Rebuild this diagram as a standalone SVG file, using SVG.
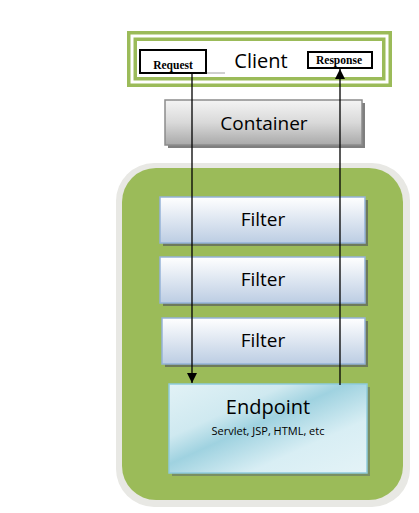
<svg xmlns="http://www.w3.org/2000/svg" width="419" height="513" viewBox="0 0 419 513">
<defs>
<linearGradient id="gGray" x1="0" y1="0" x2="0" y2="1">
<stop offset="0" stop-color="#f4f4f4"/><stop offset="0.5" stop-color="#d9d9d9"/><stop offset="1" stop-color="#a9a9a9"/>
</linearGradient>
<linearGradient id="gBlue" x1="0" y1="0" x2="0" y2="1">
<stop offset="0" stop-color="#ffffff"/><stop offset="1" stop-color="#bccde3"/>
</linearGradient>
<linearGradient id="gCyan" x1="0" y1="0" x2="1" y2="1">
<stop offset="0" stop-color="#e2f2f6"/><stop offset="0.3" stop-color="#cfe9f0"/><stop offset="0.45" stop-color="#9fd2e0"/><stop offset="0.7" stop-color="#d8eef4"/><stop offset="1" stop-color="#e4f3f7"/>
</linearGradient>
<marker id="arr" viewBox="0 0 10 10" refX="10" refY="5" markerWidth="10" markerHeight="10" markerUnits="userSpaceOnUse" orient="auto">
<path d="M0,0 L10,5 L0,10 Z" fill="#000"/>
</marker>
<style>
.lbl{font-family:"Open Sans","Noto Sans","DejaVu Sans",sans-serif;fill:#000;text-anchor:middle}
.tag{font-family:"Liberation Serif","Times New Roman",serif;font-weight:bold;font-size:11.5px;fill:#000;text-anchor:middle}
.filter{fill:url(#gBlue);stroke:#95b3d7;stroke-width:1.5}
.shadow{fill:#6e7a5a}
</style>
</defs>

<g id="outer">
<rect x="116" y="163" width="294" height="344" rx="38" fill="#e8e8e4"/>
<rect x="122" y="168" width="281" height="332" rx="34" fill="#9bbb59"/>
</g>

<g id="client">
<rect x="127" y="31" width="265" height="56" fill="#9bbb59"/>
<rect x="132" y="36" width="255" height="46" fill="none" stroke="#fff" stroke-width="3"/>
<rect x="137" y="41" width="245" height="36" fill="#fff"/>
<text class="lbl" x="261" y="68" font-size="20">Client</text>
</g>

<g id="request">
<line x1="206" y1="73" x2="225" y2="73" stroke="#a0a0a0" stroke-width="1"/>
<rect x="140" y="50" width="66" height="23" fill="#fff" stroke="#000" stroke-width="2"/>
<text class="tag" x="173" y="69">Request</text>
</g>

<g id="response">
<rect x="308" y="52" width="64" height="16" fill="#fff" stroke="#000" stroke-width="2"/>
<text class="tag" x="339" y="64">Response</text>
</g>

<g id="container">
<rect x="168" y="103" width="197" height="45" fill="#7f7f7f"/>
<rect x="165" y="100" width="197" height="45" fill="url(#gGray)" stroke="#8c8c8c" stroke-width="1.5"/>
<text class="lbl" x="264" y="130" font-size="19">Container</text>
</g>

<g id="filter1">
<rect class="shadow" x="163" y="200" width="205" height="46"/>
<rect class="filter" x="160" y="197" width="205" height="46"/>
<text class="lbl" x="263" y="226" font-size="19">Filter</text>
</g>

<g id="filter2">
<rect class="shadow" x="163" y="260" width="205" height="46"/>
<rect class="filter" x="160" y="257" width="205" height="46"/>
<text class="lbl" x="263" y="286" font-size="19">Filter</text>
</g>

<g id="filter3">
<rect class="shadow" x="165" y="321" width="203" height="46"/>
<rect class="filter" x="162" y="318" width="203" height="46"/>
<text class="lbl" x="263" y="347" font-size="19">Filter</text>
</g>

<g id="endpoint">
<rect x="172" y="387" width="198" height="89" fill="#7a8f62"/>
<rect x="169" y="384" width="198" height="89" fill="url(#gCyan)" stroke="#8fcbdb" stroke-width="1.5"/>
<text class="lbl" x="268" y="414" font-size="20">Endpoint</text>
<text class="lbl" x="268" y="435" font-size="11">Servlet, JSP, HTML, etc</text>
</g>

<g id="connectors" stroke="#000" stroke-width="1.3" fill="none">
<line x1="192" y1="74" x2="192" y2="383" marker-end="url(#arr)"/>
<line x1="340" y1="385" x2="340" y2="69" marker-end="url(#arr)"/>
</g>
</svg>
